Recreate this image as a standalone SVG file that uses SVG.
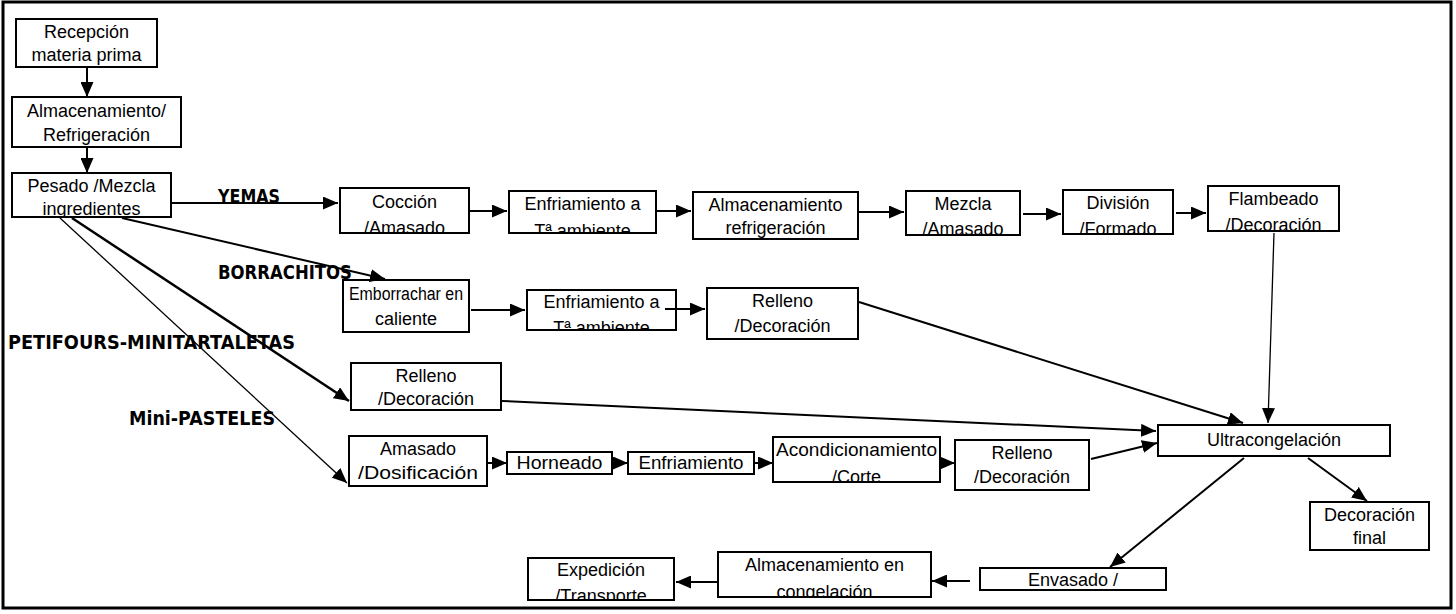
<svg xmlns="http://www.w3.org/2000/svg" width="1456" height="614" viewBox="0 0 1456 614">
<style>
.b{fill:#fff;stroke:#000;stroke-width:2}
.t{font-family:"Liberation Sans",Arial,sans-serif;font-size:18px;fill:#000;text-anchor:middle}
.l{font-family:"DejaVu Sans",Verdana,sans-serif;font-weight:bold;font-size:19px;fill:#000}
.c{fill:none;stroke:#000;stroke-width:2;marker-end:url(#ah)}
.thin{stroke-width:1.3}
</style>
<defs>
<marker id="ah" markerUnits="userSpaceOnUse" markerWidth="15" markerHeight="13" refX="15" refY="6.5" orient="auto"><path d="M0,0 L15,6.5 L0,13 z" fill="#000"/></marker>
<clipPath id="k3"><rect x="12" y="173" width="159" height="44"/></clipPath>
<clipPath id="k4"><rect x="340" y="188" width="129" height="45"/></clipPath>
<clipPath id="k5"><rect x="509" y="191" width="147" height="42"/></clipPath>
<clipPath id="k7"><rect x="906" y="191" width="114" height="44"/></clipPath>
<clipPath id="k8"><rect x="1063" y="190" width="110" height="44"/></clipPath>
<clipPath id="k9"><rect x="1208" y="186" width="131" height="45"/></clipPath>
<clipPath id="k11"><rect x="527" y="290" width="149" height="40"/></clipPath>
<clipPath id="k17"><rect x="773" y="437" width="167" height="45"/></clipPath>
<clipPath id="k21"><rect x="980" y="568" width="186" height="22"/></clipPath>
<clipPath id="k22"><rect x="718" y="552" width="213" height="45"/></clipPath>
<clipPath id="k23"><rect x="528" y="558" width="146" height="42"/></clipPath>
</defs>
<rect x="3" y="2" width="1448" height="606" fill="#fff" stroke="#000" stroke-width="3"/>

<g id="labels">
<text class="l" x="218" y="203" textLength="62" lengthAdjust="spacingAndGlyphs">YEMAS</text>
<text class="l" x="218" y="279" textLength="134" lengthAdjust="spacingAndGlyphs">BORRACHITOS</text>
<text class="l" x="8" y="349" textLength="287" lengthAdjust="spacingAndGlyphs">PETIFOURS-MINITARTALETAS</text>
<text class="l" x="129" y="425" textLength="146" lengthAdjust="spacingAndGlyphs">Mini-PASTELES</text>
</g>

<g id="n1"><rect class="b" x="16" y="19" width="141" height="48"/><text class="t" x="86.5" y="38">Recepción</text><text class="t" x="86.5" y="61">materia prima</text></g>
<g id="n2"><rect class="b" x="12" y="97" width="169" height="50"/><text class="t" x="96.5" y="117">Almacenamiento/</text><text class="t" x="96.5" y="141">Refrigeración</text></g>
<g id="n3"><rect class="b" x="12" y="173" width="159" height="44"/><g clip-path="url(#k3)"><text class="t" x="91.5" y="192">Pesado /Mezcla</text><text class="t" x="91.5" y="215">ingredientes</text></g><rect x="12" y="173" width="159" height="44" fill="none" stroke="#000" stroke-width="2"/></g>
<g id="n4"><rect class="b" x="340" y="188" width="129" height="45"/><g clip-path="url(#k4)"><text class="t" x="404.5" y="208">Cocción</text><text class="t" x="404.5" y="234">/Amasado</text></g><rect x="340" y="188" width="129" height="45" fill="none" stroke="#000" stroke-width="2"/></g>
<g id="n5"><rect class="b" x="509" y="191" width="147" height="42"/><g clip-path="url(#k5)"><text class="t" x="582.5" y="210">Enfriamiento a</text><text class="t" x="582.5" y="237">Tª ambiente</text></g><rect x="509" y="191" width="147" height="42" fill="none" stroke="#000" stroke-width="2"/></g>
<g id="n6"><rect class="b" x="693" y="192" width="165" height="47"/><text class="t" x="775.5" y="211">Almacenamiento</text><text class="t" x="775.5" y="234">refrigeración</text></g>
<g id="n7"><rect class="b" x="906" y="191" width="114" height="44"/><g clip-path="url(#k7)"><text class="t" x="963" y="210">Mezcla</text><text class="t" x="963" y="235">/Amasado</text></g><rect x="906" y="191" width="114" height="44" fill="none" stroke="#000" stroke-width="2"/></g>
<g id="n8"><rect class="b" x="1063" y="190" width="110" height="44"/><g clip-path="url(#k8)"><text class="t" x="1118" y="209">División</text><text class="t" x="1118" y="235">/Formado</text></g><rect x="1063" y="190" width="110" height="44" fill="none" stroke="#000" stroke-width="2"/></g>
<g id="n9"><rect class="b" x="1208" y="186" width="131" height="45"/><g clip-path="url(#k9)"><text class="t" x="1273.5" y="205">Flambeado</text><text class="t" x="1273.5" y="231">/Decoración</text></g><rect x="1208" y="186" width="131" height="45" fill="none" stroke="#000" stroke-width="2"/></g>
<g id="n10"><rect class="b" x="343" y="280" width="126" height="52"/><text class="t" x="406" y="300" textLength="114" lengthAdjust="spacingAndGlyphs">Emborrachar en</text><text class="t" x="406" y="325">caliente</text></g>
<g id="n11"><rect class="b" x="527" y="290" width="149" height="40"/><g clip-path="url(#k11)"><text class="t" x="601.5" y="308">Enfriamiento a</text><text class="t" x="601.5" y="334">Tª ambiente</text></g><rect x="527" y="290" width="149" height="40" fill="none" stroke="#000" stroke-width="2"/></g>
<g id="n12"><rect class="b" x="707" y="288" width="151" height="51"/><text class="t" x="782.5" y="307">Relleno</text><text class="t" x="782.5" y="332">/Decoración</text></g>
<g id="n13"><rect class="b" x="351" y="363" width="150" height="47"/><text class="t" x="426" y="382">Relleno</text><text class="t" x="426" y="405">/Decoración</text></g>
<g id="n14"><rect class="b" x="349" y="436" width="138" height="50"/><text class="t" x="418" y="455">Amasado</text><text class="t" x="418" y="479" textLength="120" lengthAdjust="spacingAndGlyphs">/Dosificación</text></g>
<g id="n15"><rect class="b" x="507" y="452" width="105" height="22"/><text class="t" x="559.5" y="469" textLength="86" lengthAdjust="spacingAndGlyphs">Horneado</text></g>
<g id="n16"><rect class="b" x="628" y="452" width="126" height="22"/><text class="t" x="691" y="469" textLength="105" lengthAdjust="spacingAndGlyphs">Enfriamiento</text></g>
<g id="n17"><rect class="b" x="773" y="437" width="167" height="45"/><g clip-path="url(#k17)"><text class="t" x="856.5" y="456" textLength="161" lengthAdjust="spacingAndGlyphs">Acondicionamiento</text><text class="t" x="856.5" y="483">/Corte</text></g><rect x="773" y="437" width="167" height="45" fill="none" stroke="#000" stroke-width="2"/></g>
<g id="n18"><rect class="b" x="955" y="440" width="134" height="50"/><text class="t" x="1022" y="459">Relleno</text><text class="t" x="1022" y="483">/Decoración</text></g>
<g id="n19"><rect class="b" x="1158" y="425" width="232" height="31"/><text class="t" x="1274" y="446">Ultracongelación</text></g>
<g id="n20"><rect class="b" x="1310" y="502" width="119" height="48"/><text class="t" x="1369.5" y="521">Decoración</text><text class="t" x="1369.5" y="544">final</text></g>
<g id="n21"><rect class="b" x="980" y="568" width="186" height="22"/><g clip-path="url(#k21)"><text class="t" x="1073" y="586">Envasado /</text></g><rect x="980" y="568" width="186" height="22" fill="none" stroke="#000" stroke-width="2"/></g>
<g id="n22"><rect class="b" x="718" y="552" width="213" height="45"/><g clip-path="url(#k22)"><text class="t" x="824.5" y="571">Almacenamiento en</text><text class="t" x="824.5" y="598">congelación</text></g><rect x="718" y="552" width="213" height="45" fill="none" stroke="#000" stroke-width="2"/></g>
<g id="n23"><rect class="b" x="528" y="558" width="146" height="42"/><g clip-path="url(#k23)"><text class="t" x="601" y="576">Expedición</text><text class="t" x="601" y="602">/Transporte</text></g><rect x="528" y="558" width="146" height="42" fill="none" stroke="#000" stroke-width="2"/></g>

<g id="connectors">
<path class="c" d="M87,67 L87,97"/>
<path class="c" d="M87,147 L87,173"/>
<path class="c" d="M171,203 L338,203"/>
<path class="c" d="M469,211 L507,211"/>
<path class="c" d="M656,211 L691,211"/>
<path class="c" d="M858,212 L904,212"/>
<path class="c" d="M1023,214 L1061,214"/>
<path class="c" d="M1176,213 L1206,213"/>
<path class="c thin" d="M1274,233 L1268,423"/>
<path class="c" d="M122,218 L385,279"/>
<path class="c" style="stroke-width:2.5" d="M72,218 L349,401"/>
<path class="c thin" d="M60,218 L347,483"/>
<path class="c" d="M471,310 L525,310"/>
<path class="c" d="M665,309 L705,309"/>
<path class="c" d="M859,302 L1243,423"/>
<path class="c" d="M502,401 L1156,431"/>
<path class="c" d="M488,463 L507,463"/>
<path class="c" d="M613,463 L628,463"/>
<path class="c" d="M755,463 L773,463"/>
<path class="c" d="M940,463 L955,463"/>
<path class="c" d="M1091,459 L1157,443"/>
<path class="c" d="M1308,458 L1367,501"/>
<path class="c" d="M1244,458 L1110,567"/>
<path class="c" d="M970,581 L932,581"/>
<path class="c" d="M717,582 L676,582"/>
</g>
</svg>
